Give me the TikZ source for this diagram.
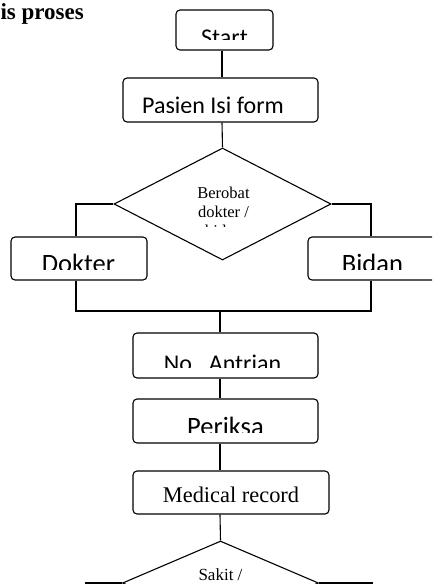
\documentclass[tikz,border=0pt]{standalone}
\usepackage{fontspec}
\setmainfont{Liberation Serif}
\newfontfamily\calib{Carlito}
\usetikzlibrary{shapes.geometric}
\begin{document}
\begin{tikzpicture}[x=1pt,y=-1pt,line width=1.1pt,
  box/.style={draw,rounded corners=4pt,inner sep=0pt,line width=1.1pt},
  dia/.style={draw,diamond,inner sep=0pt,line width=1.1pt},
  sans/.style={anchor=base,inner sep=0pt,font=\calib\fontsize{24}{28}\selectfont},
  bigsans/.style={anchor=base,inner sep=0pt,font=\calib\fontsize{26.5}{30}\selectfont},
  serif/.style={anchor=base,inner sep=0pt,font=\fontsize{16.5}{19}\selectfont},
  conn/.style={draw,line width=1.1pt}]
\useasboundingbox (0,0) rectangle (432,584);
\clip (0,0) rectangle (432,584);
\fill[white] (0,0) rectangle (432,584);

% title
\node[anchor=base west,inner sep=0pt,font=\bfseries\fontsize{23}{27}\selectfont] (title) at (0,19) {is proses};

% boxes
\node[box,minimum width=97pt,minimum height=40pt] (start) at (224.5,30) {};
\node[box,minimum width=195pt,minimum height=44pt] (pasien) at (220.5,100) {};
\node[dia,minimum width=217pt,minimum height=112pt] (d1) at (222.5,204) {};
\node[box,minimum width=136pt,minimum height=43pt] (dok) at (79,258.5) {};
\node[box,minimum width=129pt,minimum height=43pt] (bid) at (372.5,258.5) {};
\node[box,minimum width=185pt,minimum height=45pt] (ant) at (225.5,355.5) {};
\node[box,minimum width=185pt,minimum height=44pt] (per) at (225.5,421) {};
\node[box,minimum width=196pt,minimum height=43pt] (med) at (231,492.5) {};
\node[dia,minimum width=196pt,minimum height=84pt] (d2) at (220.5,583) {};

% clipped texts
\begin{scope}\clip (150,0) rectangle (300,39);
  \node[sans] (tstart) at (224.5,45.5) {Start};\end{scope}
\begin{scope}\clip (130,80) rectangle (310,112);
  \node[sans] (tpasien) at (213,113.5) {Pasien Isi form};\end{scope}
\begin{scope}\clip (15,240) rectangle (145,269);
  \node[bigsans] (tdok) at (78.5,272.5) {Dokter};\end{scope}
\begin{scope}\clip (312,240) rectangle (432,269);
  \node[bigsans] (tbid) at (372.5,272.5) {Bidan};\end{scope}
\begin{scope}\clip (140,336) rectangle (315,367);
  \node[sans] (tant) at (222.5,371) {No.\ \ Antrian};\end{scope}
\begin{scope}\clip (140,402) rectangle (315,432);
  \node[bigsans] (tper) at (225.5,435.5) {Periksa};\end{scope}

\node[anchor=base,inner sep=0pt,font=\fontsize{22.4}{26}\selectfont] (tmed) at (231,502) {Medical record};

\node[serif] (q1a) at (223.5,198) {Berobat};
\node[serif] (q1b) at (223.5,217) {dokter /};
\begin{scope}\clip (180,220) rectangle (270,226.5);
  \node[serif] (q1c) at (223.5,236) {bidan};\end{scope}
\node[serif,font=\fontsize{17}{20}\selectfont] (q2) at (220.5,580) {Sakit /};

% connectors
\coordinate (cx) at (222,0);
\draw[conn] (cx |- start.south) -- (cx |- pasien.north);
\draw[conn] (cx |- pasien.south) -- (d1.north);
\coordinate (jl) at (76,204);
\coordinate (jr) at (371,204);
\coordinate (jb) at (220,311);
\draw[conn] (d1.west) -- (jl) -- (jl |- dok.north);
\draw[conn] (d1.east) -- (jr) -- (jr |- bid.north);
\draw[conn] (jl |- dok.south) -- (jl |- jb) -- (jr |- jb) -- (jr |- bid.south);
\draw[conn] (jb) -- (jb |- ant.north);
\draw[conn] (jb |- ant.south) -- (jb |- per.north);
\draw[conn] (jb |- per.south) -- (jb |- med.north);
\draw[conn] (jb |- med.south) -- (d2.north);
\coordinate (kl) at (86,583);
\coordinate (kr) at (372,583);
\draw[conn] (d2.west) -- (kl) -- ++(0,10);
\draw[conn] (d2.east) -- (kr) -- ++(0,10);
\end{tikzpicture}
\end{document}
